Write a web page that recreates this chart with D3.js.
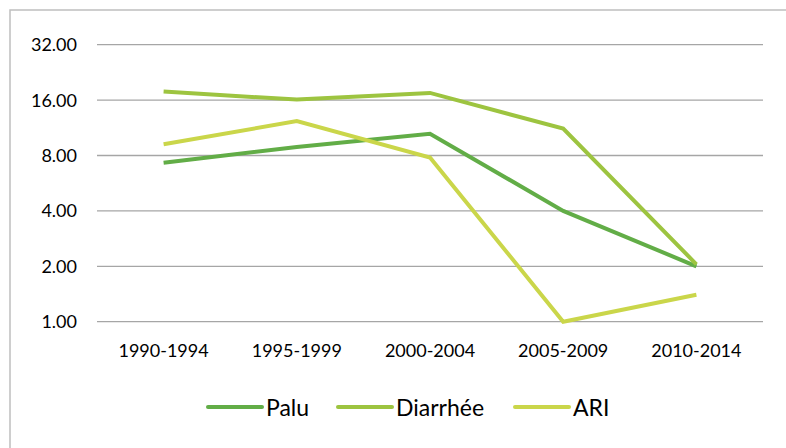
<!DOCTYPE html>
<html>
<head>
<meta charset="utf-8">
<script src="https://cdn.jsdelivr.net/npm/d3@7"></script>
<style>
  body { margin: 0; background: #fff; }
  text { font-family: Lato, "Open Sans", sans-serif; fill: #000; }
</style>
</head>
<body>
<svg id="chart" width="786" height="448"></svg>
<script>
// chart data
var categories = ['1990-1994', '1995-1999', '2000-2004', '2005-2009', '2010-2014'];
var seriesNames = ['Palu', 'Diarrhée', 'ARI'];
var palu = [7.3, 8.9, 10.5, 4.0, 2.0];
var diarrhee = [17.8, 16.1, 17.5, 11.2, 2.05];
var ari = [9.2, 12.3, 7.8, 1.0, 1.4];
var yTicks = [1, 2, 4, 8, 16, 32];
var colors = ['#62ad47', '#9dc440', '#cad64a'];

var svg = d3.select('#chart');

// outer border (bottom/right run off the page like the reference)
svg.append('rect')
  .attr('x', 10).attr('y', 10)
  .attr('width', 800).attr('height', 460)
  .attr('fill', 'none')
  .attr('stroke', '#bfbfbf')
  .attr('stroke-width', 1.5);

var x = d3.scalePoint().domain(categories).range([163.6, 696.4]);
var y = d3.scaleLog().base(2).domain([1, 32]).range([321.7, 44.7]);

// gridlines
svg.append('g').selectAll('line')
  .data(yTicks)
  .enter().append('line')
  .attr('x1', 97).attr('x2', 763)
  .attr('y1', function(d){ return y(d); })
  .attr('y2', function(d){ return y(d); })
  .attr('stroke', '#a6a6a6')
  .attr('stroke-width', 1.3);

// y labels
svg.append('g').selectAll('text')
  .data(yTicks)
  .enter().append('text')
  .attr('x', 77)
  .attr('y', function(d){ return y(d); })
  .attr('dy', '0.36em')
  .attr('text-anchor', 'end')
  .style('font-size', '18px')
  .text(function(d){ return d3.format('.2f')(d); });

// x labels
svg.append('g').selectAll('text')
  .data(categories)
  .enter().append('text')
  .attr('x', function(d){ return x(d); })
  .attr('y', 357)
  .attr('text-anchor', 'middle')
  .style('font-size', '18px')
  .text(function(d){ return d; });

var line = d3.line()
  .x(function(d, i){ return x(categories[i]); })
  .y(function(d){ return y(d); });

var allSeries = [palu, diarrhee, ari];
// draw ARI first so Palu sits on top, like Excel draws later series on top
allSeries.forEach(function(s, i){
  svg.append('path')
    .datum(s)
    .attr('d', line)
    .attr('fill', 'none')
    .attr('stroke', colors[i])
    .attr('stroke-width', 4)
    .attr('stroke-linejoin', 'miter');
});

// legend
var legendX = [208, 338, 515];
var lg = svg.append('g');
seriesNames.forEach(function(name, i){
  lg.append('line')
    .attr('x1', legendX[i]).attr('x2', legendX[i] + 54)
    .attr('y1', 407).attr('y2', 407)
    .attr('stroke', colors[i])
    .attr('stroke-width', 4)
    .attr('stroke-linecap', 'round');
  lg.append('text')
    .attr('x', legendX[i] + 58)
    .attr('y', 416)
    .style('font-size', '23px')
    .text(name);
});
</script>
</body>
</html>
